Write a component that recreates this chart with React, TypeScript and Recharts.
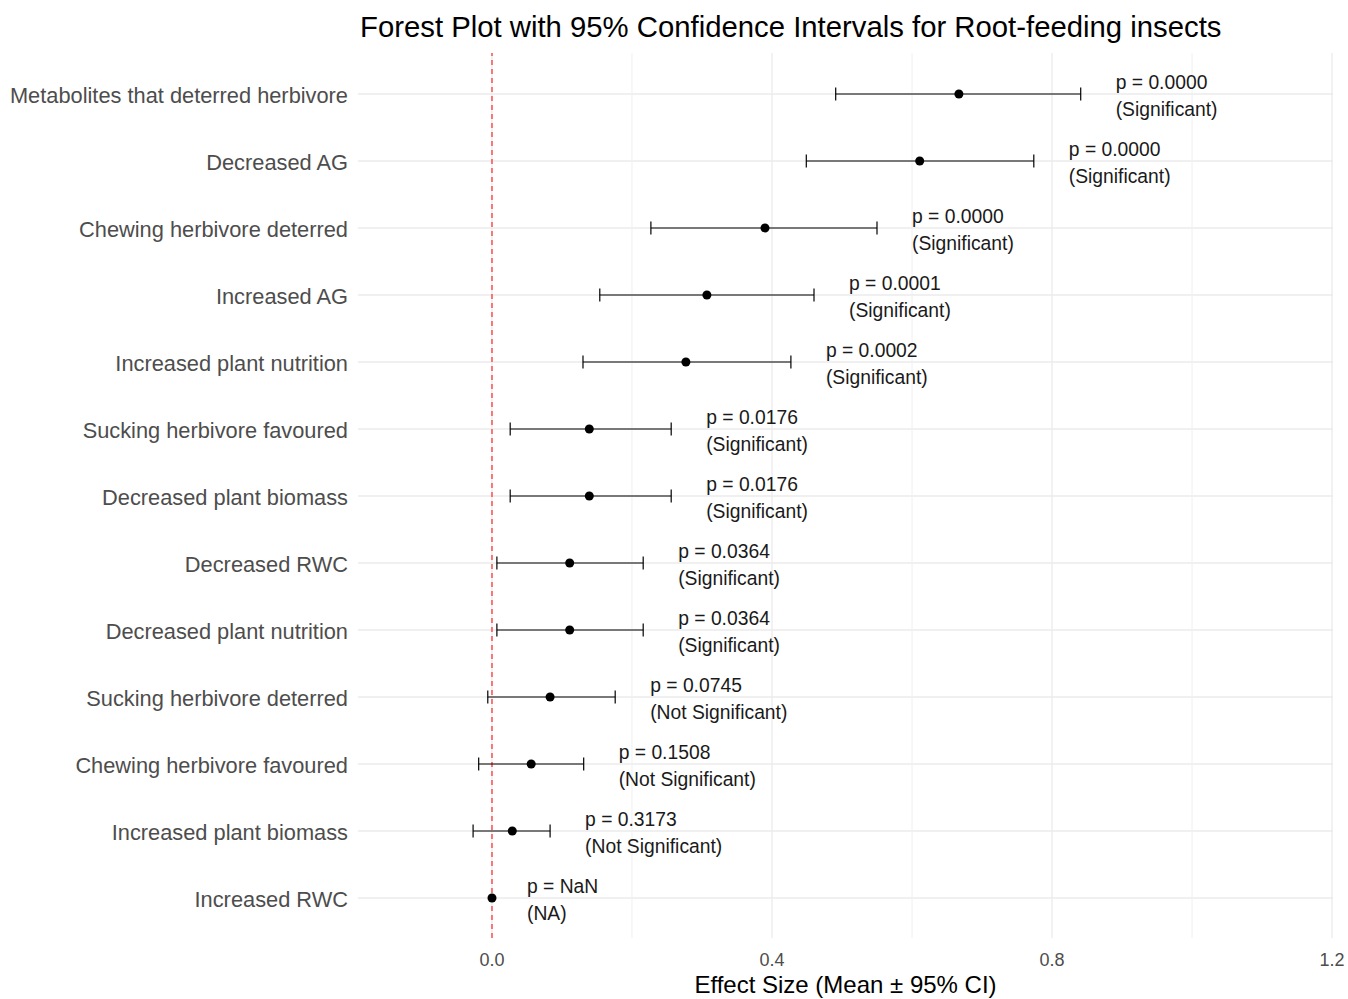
import React from 'react';
import {
  ScatterChart,
  Scatter,
  XAxis,
  YAxis,
  ReferenceLine,
  ErrorBar
} from 'recharts';

const outcomes = [
  'Metabolites that deterred herbivore',
  'Decreased AG',
  'Chewing herbivore deterred',
  'Increased AG',
  'Increased plant nutrition',
  'Sucking herbivore favoured',
  'Decreased plant biomass',
  'Decreased RWC',
  'Decreased plant nutrition',
  'Sucking herbivore deterred',
  'Chewing herbivore favoured',
  'Increased plant biomass',
  'Increased RWC'
];

const means = [0.667, 0.611, 0.39, 0.307, 0.277, 0.139, 0.139, 0.111, 0.111, 0.083, 0.056, 0.029, 0];
const lower = [0.491, 0.449, 0.227, 0.154, 0.13, 0.026, 0.026, 0.007, 0.007, -0.006, -0.019, -0.027, null];
const upper = [0.841, 0.774, 0.55, 0.46, 0.427, 0.256, 0.256, 0.216, 0.216, 0.176, 0.131, 0.083, null];
const pValues = ['0.0000', '0.0000', '0.0000', '0.0001', '0.0002', '0.0176', '0.0176', '0.0364', '0.0364', '0.0745', '0.1508', '0.3173', 'NaN'];
const verdicts = [
  'Significant', 'Significant', 'Significant', 'Significant', 'Significant',
  'Significant', 'Significant', 'Significant', 'Significant',
  'Not Significant', 'Not Significant', 'Not Significant', 'NA'
];

const xTicks = [0, 0.4, 0.8, 1.2];
const minorTicks = [0.2, 0.6, 1.0];
const xDomain: [number, number] = [-0.1914, 1.2014];

const FONT = '"Liberation Sans", Arial, sans-serif';

const rows = outcomes.map((name, i) => {
  const lo = lower[i];
  const hi = upper[i];
  return {
    name,
    mean: means[i],
    err: lo == null || hi == null ? null : [means[i] - lo, hi - means[i]],
    labelX: (hi == null ? means[i] : hi) + 0.05,
    p: pValues[i],
    verdict: verdicts[i]
  };
});

const Dot = (props: any) => (
  <circle cx={props.cx} cy={props.cy} r={4.5} fill="#000" />
);

const PLabel = (props: any) => {
  const d = props.payload;
  return (
    <g fontFamily={FONT} fontSize={19.3} fill="#1a1a1a">
      <text x={props.cx} y={props.cy - 5}>{`p = ${d.p}`}</text>
      <text x={props.cx} y={props.cy + 22}>{`(${d.verdict})`}</text>
    </g>
  );
};

export default function App() {
  return (
    <div style={{ position: 'absolute', left: 0, top: 0, width: 1348, height: 999, background: '#fff' }}>
      <div
        style={{
          position: 'absolute',
          left: 360,
          top: 12,
          fontSize: 29.3,
          lineHeight: 1,
          fontFamily: FONT,
          color: '#000',
          whiteSpace: 'nowrap'
        }}
      >
        Forest Plot with 95% Confidence Intervals for Root-feeding insects
      </div>
      <ScatterChart
        width={1348}
        height={999}
        margin={{ top: 53, right: 15, bottom: 0, left: 0 }}
        style={{ fontFamily: FONT }}
      >
        {outcomes.map((o) => (
          <ReferenceLine key={o} y={o} stroke="#ebebeb" strokeWidth={1.3} />
        ))}
        {minorTicks.map((t) => (
          <ReferenceLine key={t} x={t} stroke="#f0f0f0" strokeWidth={1} />
        ))}
        {xTicks.map((t) => (
          <ReferenceLine key={`M${t}`} x={t} stroke="#ebebeb" strokeWidth={1.3} />
        ))}
        <XAxis
          type="number"
          dataKey="mean"
          domain={xDomain}
          ticks={xTicks}
          allowDataOverflow
          tickFormatter={(v: number) => v.toFixed(1)}
          tickLine={false}
          axisLine={false}
          tickMargin={9}
          height={61}
          tick={{ fill: '#4d4d4d', fontSize: 18 }}
          label={{ value: 'Effect Size (Mean ± 95% CI)', position: 'insideBottom', offset: 6, fill: '#000', fontSize: 24 }}
        />
        <XAxis
          xAxisId="lab"
          type="number"
          dataKey="labelX"
          domain={xDomain}
          allowDataOverflow
          hide
        />
        <YAxis
          type="category"
          dataKey="name"
          scale="point"
          reversed
          allowDuplicatedCategory={false}
          padding={{ top: 41, bottom: 40 }}
          width={358}
          tickLine={false}
          axisLine={false}
          tickMargin={4}
          tick={{ fill: '#4d4d4d', fontSize: 21.8, dy: 1 }}
        />
        <ReferenceLine x={0} stroke="#ff0000" strokeDasharray="5 4" strokeWidth={1} />
        <Scatter data={rows} shape={<Dot />} isAnimationActive={false}>
          <ErrorBar dataKey="err" direction="x" width={6.5} stroke="#000" strokeWidth={1.2} />
        </Scatter>
        <Scatter data={rows} xAxisId="lab" shape={<PLabel />} isAnimationActive={false} />
      </ScatterChart>
    </div>
  );
}
